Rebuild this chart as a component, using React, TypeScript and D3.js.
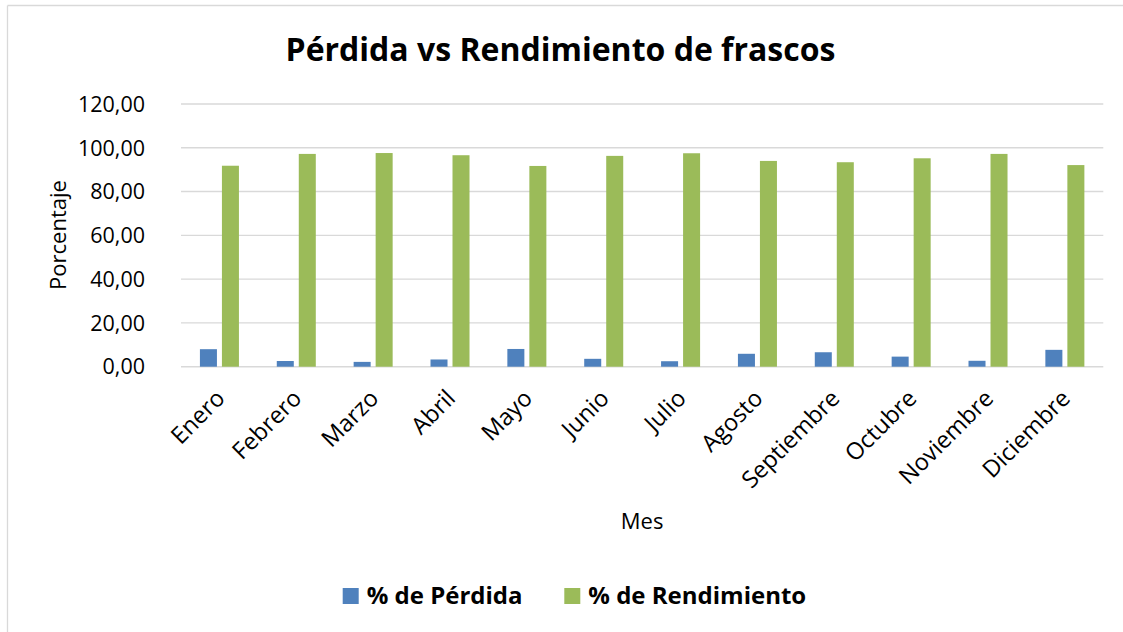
import React from "react";
import * as d3 from "d3";

const months = ["Enero", "Febrero", "Marzo", "Abril", "Mayo", "Junio", "Julio", "Agosto", "Septiembre", "Octubre", "Noviembre", "Diciembre"];
const perdida = [8.0, 2.6, 2.2, 3.3, 8.1, 3.6, 2.5, 5.9, 6.6, 4.6, 2.7, 7.7];
const rendimiento = [91.8, 97.2, 97.6, 96.6, 91.7, 96.3, 97.5, 94.0, 93.4, 95.2, 97.2, 92.1];
const yTicks = [0, 20, 40, 60, 80, 100, 120];
const seriesNames = ["% de Pérdida", "% de Rendimiento"];
const seriesColors = ["#4f81bd", "#9bbb59"];

const W = 1123;
const H = 632;
const FONT = "'Open Sans', 'Noto Sans', sans-serif";

export default function App() {
  const x0 = 181, x1 = 1103.3, yTop = 104, yBot = 366.7;
  const x = d3.scaleBand<string>().domain(months).range([x0, x1]).paddingInner(0).paddingOuter(0);
  const xs = d3.scaleBand<string>().domain(seriesNames).range([0, x.bandwidth()]).paddingInner(0.227).paddingOuter(0.86);
  const y = d3.scaleLinear().domain([0, 120]).range([yBot, yTop]);
  const fmt = (v: number) => v.toFixed(2).replace(".", ",");
  const data = [perdida, rendimiento];

  return (
    <svg width={W} height={H} style={{ position: "absolute", left: 0, top: 0, background: "#fff" }} fontFamily={FONT}>
      <rect x={0} y={0} width={W} height={H} fill="#fff" />
      <line x1={7.5} y1={5.5} x2={W} y2={5.5} stroke="#d9d9d9" strokeWidth={1.3} />
      <line x1={7.5} y1={5.5} x2={7.5} y2={H} stroke="#d9d9d9" strokeWidth={1.3} />

      <text x={560.5} y={61} textAnchor="middle" fontWeight="bold" fontSize={32} fill="#000">
        Pérdida vs Rendimiento de frascos
      </text>

      {yTicks.map((t) => (
        <g key={t}>
          <line x1={x0} x2={x1} y1={y(t)} y2={y(t)} stroke="#d9d9d9" strokeWidth={1.4} />
          <text x={145} y={y(t)} dy="0.36em" textAnchor="end" fontSize={21.5} fill="#000">
            {fmt(t)}
          </text>
        </g>
      ))}

      {data.map((vals, si) =>
        vals.map((v, i) => (
          <rect
            key={si + "-" + i}
            x={(x(months[i]) as number) + (xs(seriesNames[si]) as number)}
            y={y(v)}
            width={xs.bandwidth()}
            height={y(0) - y(v)}
            fill={seriesColors[si]}
          />
        ))
      )}

      {months.map((m) => {
        const cx = (x(m) as number) + x.bandwidth() / 2;
        return (
          <text
            key={m}
            transform={`translate(${cx + 1},${394}) rotate(-45)`}
            textAnchor="end"
            dy="0.35em"
            fontSize={23.5}
            fill="#000"
          >
            {m}
          </text>
        );
      })}

      <text x={(x0 + x1) / 2} y={529} textAnchor="middle" fontSize={22} fill="#000">
        Mes
      </text>
      <text transform={`translate(66,235) rotate(-90)`} textAnchor="middle" fontSize={22} fill="#000">
        Porcentaje
      </text>

      {seriesNames.map((s, i) => {
        const lx = [342.7, 564.3][i];
        return (
          <g key={s}>
            <rect x={lx} y={588} width={16} height={16} fill={seriesColors[i]} />
            <text x={lx + 24} y={604} fontSize={24} fontWeight="bold" fill="#000">
              {s}
            </text>
          </g>
        );
      })}
    </svg>
  );
}
